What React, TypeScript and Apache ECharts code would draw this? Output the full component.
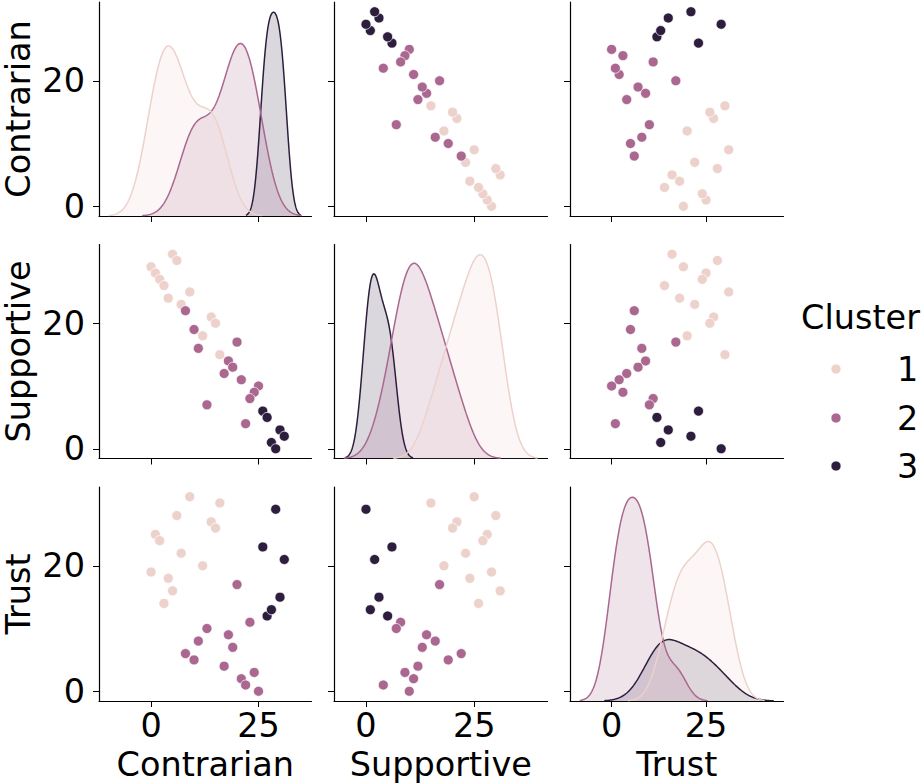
import React, { useEffect, useRef } from "react";
import * as echarts from "echarts";

// Scores per respondent, grouped by cluster (same index = same respondent)
const variables = ["Contrarian", "Supportive", "Trust"];
const clusterNames = ["1", "2", "3"];
const clusterColors = ["#edd1cb", "#aa678f", "#2d1e3e"];

const contrarian1 = [5, 6, 0, 1, 2, 3, 9, 4, 7, 14, 15, 12, 16];
const supportive1 = [31, 30, 29, 28, 27, 26, 25, 24, 23, 21, 20, 18, 15];
const trust1 = [16, 28, 19, 25, 24, 14, 31, 18, 22, 27, 26, 20, 30];

const contrarian2 = [8, 10, 20, 11, 18, 19, 17, 21, 25, 24, 23, 13, 22];
const supportive2 = [22, 19, 17, 16, 14, 13, 12, 11, 10, 9, 8, 7, 4];
const trust2 = [6, 5, 17, 8, 9, 7, 4, 2, 0, 3, 11, 10, 1];

const contrarian3 = [26, 27, 30, 31, 28, 29];
const supportive3 = [6, 5, 3, 2, 1, 0];
const trust3 = [23, 12, 15, 21, 13, 29];

const xTicks = [0, 25];
const yTicks = [0, 20];

const FONT = "DejaVu Sans";
const FONT_SIZE = 33.5;

const clusterData: number[][][] = [
  [contrarian1, supportive1, trust1],
  [contrarian2, supportive2, trust2],
  [contrarian3, supportive3, trust3],
];

function withAlpha(hex: string, a: number) {
  const n = parseInt(hex.slice(1), 16);
  return `rgba(${(n >> 16) & 255},${(n >> 8) & 255},${n & 255},${a})`;
}

// Gaussian KDE with Scott's bandwidth, cut = 3 bandwidths, scaled by group share
function kde(vals: number[], total: number) {
  const n = vals.length;
  const mean = vals.reduce((s, v) => s + v, 0) / n;
  const variance = vals.reduce((s, v) => s + (v - mean) ** 2, 0) / (n - 1);
  const bw = Math.pow(n, -0.2) * Math.sqrt(variance);
  const lo = Math.min(...vals) - 3 * bw;
  const hi = Math.max(...vals) + 3 * bw;
  const pts: number[][] = [];
  const steps = 200;
  for (let i = 0; i < steps; i++) {
    const x = lo + ((hi - lo) * i) / (steps - 1);
    let d = 0;
    for (const v of vals) d += Math.exp(-0.5 * ((x - v) / bw) ** 2);
    d /= n * bw * Math.sqrt(2 * Math.PI);
    pts.push([x, (d * n) / total]);
  }
  return { pts, lo, hi };
}

const GRID_LEFT = [98, 334, 570];
const GRID_TOP = [2, 244.5, 487];
const GRID_W = 213.5;
const GRID_H = 214;

function buildOption() {
  const total = clusterData.reduce((s, c) => s + c[0].length, 0);

  // densities per variable, per cluster
  const dens = variables.map((_, v) => clusterData.map((c) => kde(c[v], total)));

  const dataRange = variables.map((_, v) => {
    const all = clusterData.flatMap((c) => c[v]);
    return [Math.min(...all), Math.max(...all)];
  });
  const pad = (lo: number, hi: number) => {
    const m = (hi - lo) * 0.05;
    return [lo - m, hi + m];
  };
  const yLim = dataRange.map(([a, b]) => pad(a, b));
  const xLim = variables.map((_, v) => {
    const lo = Math.min(dataRange[v][0], ...dens[v].map((d) => d.lo));
    const hi = Math.max(dataRange[v][1], ...dens[v].map((d) => d.hi));
    return pad(lo, hi);
  });

  const grid: any[] = [];
  const xAxis: any[] = [];
  const yAxis: any[] = [];
  const series: any[] = [];

  const axisLine = { show: true, onZero: false, lineStyle: { color: "#000", width: 1.2 } };
  const labelStyle = { fontSize: FONT_SIZE, fontFamily: FONT, color: "#000" };

  for (let r = 0; r < 3; r++) {
    for (let c = 0; c < 3; c++) {
      const g = r * 3 + c;
      grid.push({ left: GRID_LEFT[c], top: GRID_TOP[r], width: GRID_W, height: GRID_H, containLabel: false });
      xAxis.push({
        type: "value",
        gridIndex: g,
        min: xLim[c][0],
        max: xLim[c][1],
        axisLine,
        axisTick: { show: true, length: 6, lineStyle: { color: "#000", width: 1 }, customValues: xTicks },
        axisLabel: { show: r === 2, customValues: xTicks, margin: 7, ...labelStyle },
        splitLine: { show: false },
        name: r === 2 ? variables[c] : "",
        nameLocation: "middle",
        nameGap: 46,
        nameTextStyle: { ...labelStyle },
      });
      const yIdx = yAxis.length;
      yAxis.push({
        type: "value",
        gridIndex: g,
        min: yLim[r][0],
        max: yLim[r][1],
        axisLine,
        axisTick: { show: true, length: 6, lineStyle: { color: "#000", width: 1 }, customValues: yTicks },
        axisLabel: { show: c === 0, customValues: yTicks, margin: 14, ...labelStyle },
        splitLine: { show: false },
        name: c === 0 ? variables[r] : "",
        nameLocation: "middle",
        nameGap: 64,
        nameRotate: 90,
        nameTextStyle: { ...labelStyle },
      });

      if (r === c) {
        const densMax = Math.max(...dens[r].flatMap((d) => d.pts.map((p) => p[1])));
        const dIdx = yAxis.length;
        yAxis.push({
          type: "value",
          gridIndex: g,
          min: 0,
          max: densMax * 1.05,
          show: false,
          axisLine: { onZero: false },
          splitLine: { show: false },
        });
        // later clusters drawn first so the lightest sits on top
        for (let k = clusterData.length - 1; k >= 0; k--) {
          series.push({
            type: "line",
            name: clusterNames[k],
            xAxisIndex: g,
            yAxisIndex: dIdx,
            data: dens[r][k].pts,
            showSymbol: false,
            symbol: "none",
            smooth: false,
            lineStyle: { color: clusterColors[k], width: 1.5 },
            itemStyle: { color: clusterColors[k] },
            areaStyle: { color: withAlpha(clusterColors[k], 0.25), origin: "start" },
            z: 2,
          });
        }
      } else {
        clusterData.forEach((cd, k) => {
          series.push({
            type: "scatter",
            name: clusterNames[k],
            xAxisIndex: g,
            yAxisIndex: yIdx,
            data: cd[c].map((xv, i) => [xv, cd[r][i]]),
            symbolSize: 10,
            itemStyle: { color: clusterColors[k], borderColor: "#fff", borderWidth: 0.7, opacity: 1 },
            z: 3,
          });
        });
      }
    }
  }

  const legendX = 836;
  const legendY = [369, 418, 466];
  const graphic: any[] = [
    {
      type: "text",
      x: 801,
      y: 317,
      style: { text: "Cluster", fontSize: FONT_SIZE, fontFamily: FONT, fill: "#000", align: "left", verticalAlign: "middle" },
    },
  ];
  clusterNames.forEach((nm, k) => {
    graphic.push({
      type: "circle",
      shape: { cx: legendX, cy: legendY[k], r: 5 },
      style: { fill: clusterColors[k], stroke: "#fff", lineWidth: 0.7 },
    });
    graphic.push({
      type: "text",
      x: 897,
      y: legendY[k],
      style: { text: nm, fontSize: FONT_SIZE, fontFamily: FONT, fill: "#000", align: "left", verticalAlign: "middle" },
    });
  });

  return {
    animation: false,
    backgroundColor: "#fff",
    textStyle: { fontFamily: FONT },
    grid,
    xAxis,
    yAxis,
    series,
    graphic,
  };
}

export default function App() {
  const ref = useRef<HTMLDivElement>(null);
  useEffect(() => {
    if (!ref.current) return;
    const chart = echarts.init(ref.current, undefined, { renderer: "svg" });
    chart.setOption(buildOption());
    return () => chart.dispose();
  }, []);
  return (
    <div
      ref={ref}
      style={{ position: "fixed", left: 0, top: 0, width: 923, height: 784, background: "#fff" }}
    />
  );
}
